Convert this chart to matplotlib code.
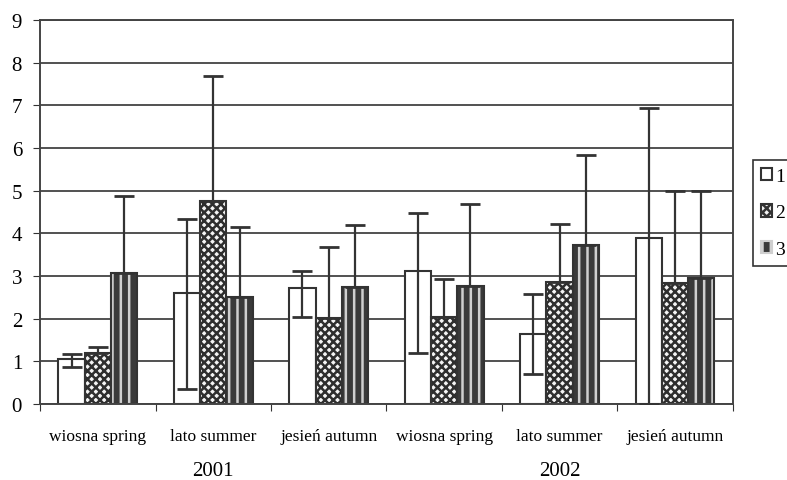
import numpy as np
import matplotlib.pyplot as plt
from matplotlib.patches import Patch

plt.rcParams['font.family'] = ['Liberation Serif', 'DejaVu Serif']
plt.rcParams['hatch.linewidth'] = 1.8

# data
seasons = ["wiosna spring", "lato summer", "jesień autumn",
           "wiosna spring", "lato summer", "jesień autumn"]
years = ["2001", "2002"]
series_names = ["1", "2", "3"]

s1 = [1.05, 2.60, 2.73, 3.13, 1.64, 3.89]
s1_low = [0.87, 0.35, 2.05, 1.20, 0.70, 0.0]
s1_high = [1.18, 4.33, 3.12, 4.47, 2.58, 6.94]

s2 = [1.19, 4.76, 2.02, 2.03, 2.86, 2.83]
s2_high = [1.34, 7.70, 3.68, 2.92, 4.22, 5.00]

s3 = [3.07, 2.51, 2.74, 2.77, 3.72, 2.95]
s3_high = [4.88, 4.15, 4.20, 4.70, 5.83, 5.00]

DARK = '#333333'
fig = plt.figure(figsize=(7.87, 4.81), dpi=100)
ax = fig.add_axes([0.051, 0.158, 0.880, 0.798])

x = np.arange(len(seasons))
w = 0.228
off = [-w, 0, w]

# series 1: white
ax.bar(x + off[0], s1, w, color='white', edgecolor=DARK, linewidth=1.5, zorder=2)
# series 2: checker pattern
ax.bar(x + off[1], s2, w, color='#f4f4f4', edgecolor='#2e2e2e', hatch='xxxx', linewidth=0, zorder=2)
ax.bar(x + off[1], s2, w, fill=False, edgecolor=DARK, linewidth=1.5, zorder=2)
# series 3: dark with light stripes
ax.bar(x + off[2], s3, w, color='#3a3a3a', edgecolor='#cfcfcf', hatch='||', linewidth=0, zorder=2)
ax.bar(x + off[2], s3, w, fill=False, edgecolor=DARK, linewidth=1.5, zorder=2)

err_kw = dict(fmt='none', ecolor=DARK, elinewidth=1.6, capsize=7, capthick=2, zorder=3)
s1 = np.array(s1)
ax.errorbar(x + off[0], s1, yerr=[s1 - np.array(s1_low), np.array(s1_high) - s1], **err_kw)
s2 = np.array(s2)
ax.errorbar(x + off[1], s2, yerr=[np.zeros(len(s2)), np.array(s2_high) - s2], **err_kw)
s3 = np.array(s3)
ax.errorbar(x + off[2], s3, yerr=[np.zeros(len(s3)), np.array(s3_high) - s3], **err_kw)

ax.set_xlim(-0.5, len(seasons) - 0.5)
ax.set_ylim(0, 9)
ax.set_yticks(range(10))
ax.yaxis.grid(True, color='#222222', linewidth=1.1)
ax.set_axisbelow(True)

ax.set_xticks(np.arange(len(seasons) + 1) - 0.5)
ax.set_xticklabels([])
ax.tick_params(axis='x', length=5, color=DARK, direction='out')
ax.tick_params(axis='y', length=5, color=DARK, direction='out', labelsize=15, pad=8)

for i, lab in enumerate(seasons):
    ax.text(i, -0.74, lab, ha='center', va='center', fontsize=12.5)
for j, yr in enumerate(years):
    ax.text(1 + 3 * j, -1.57, yr, ha='center', va='center', fontsize=15)

for side in ['top', 'right', 'bottom']:
    ax.spines[side].set_linestyle((0, (1, 1)))
    ax.spines[side].set_color('#444444')
    ax.spines[side].set_linewidth(1.4)
ax.spines['left'].set_color('#444444')
ax.spines['left'].set_linewidth(1.4)

handles = [
    Patch(facecolor='white', edgecolor=DARK, linewidth=1.5),
    Patch(facecolor='#f4f4f4', edgecolor=DARK, hatch='xxxx', linewidth=1.5),
    Patch(facecolor='#3a3a3a', edgecolor='#cfcfcf', hatch='||', linewidth=1.5),
]
leg = fig.legend(handles, series_names, loc='upper left',
                 bbox_to_anchor=(753 / 787, 1 - 161 / 481), fontsize=14,
                 frameon=True, fancybox=False, edgecolor='black',
                 handlelength=0.6, handleheight=0.6, labelspacing=1.0,
                 borderpad=0.4, borderaxespad=0, handletextpad=0.15)
leg.get_frame().set_linewidth(1.2)

fig.savefig('out.png', dpi=100)
